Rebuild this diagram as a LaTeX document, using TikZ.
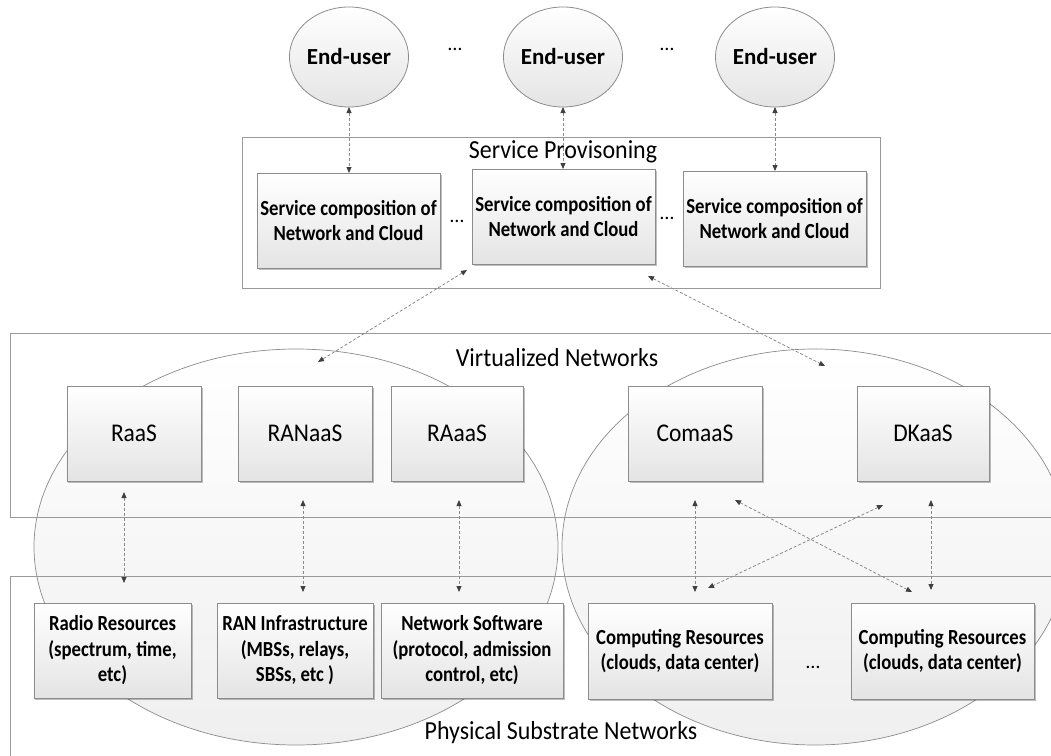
\documentclass[tikz,border=0pt]{standalone}
\usepackage{fontspec}
\setmainfont{Carlito}
\newfontfamily\nbfont{Carlito}[FakeStretch=0.87]
\newfontfamily\nrfont{Carlito}[FakeStretch=0.92]
\usetikzlibrary{arrows.meta,shadows,shapes.geometric}
\definecolor{bd}{HTML}{8C8C8C}
\definecolor{lay}{HTML}{9A9A9A}
\definecolor{dsh}{HTML}{8A8A8A}
\definecolor{tip}{HTML}{404040}
\definecolor{boxbot}{HTML}{E4E4E4}
\definecolor{ellbot}{HTML}{EFEFEF}
\begin{document}
\begin{tikzpicture}[x=1bp,y=-1bp,
  every node/.style={inner sep=0pt, outer sep=0pt},
  bx/.style={draw=bd, line width=0.8bp, top color=white, bottom color=boxbot,
    align=center, drop shadow={shadow xshift=1.5bp, shadow yshift=-1.5bp, opacity=0.25, fill=black}},
  sbox/.style={bx, font=\nbfont\fontsize{21.5bp}{25.5bp}\selectfont\bfseries},
  vbox/.style={bx, font=\nrfont\fontsize{25.5bp}{28bp}\selectfont, minimum height=95bp},
  user/.style={ellipse, draw=bd, line width=0.8bp, top color=white, bottom color=boxbot,
    minimum width=108bp, minimum height=100bp, font=\fontsize{23bp}{28bp}\selectfont\bfseries},
  layer/.style={draw=lay, line width=0.9bp},
  cloudell/.style={draw=bd, line width=0.7bp, top color=white, bottom color=ellbot},
  title/.style={font=\nrfont\fontsize{26bp}{28bp}\selectfont},
  dots/.style={font=\fontsize{20bp}{24bp}\selectfont},
  link/.style={draw=dsh, line width=0.8bp, dash pattern=on 3bp off 2bp,
    {Triangle[length=6bp,width=5bp,color=tip]}-{Triangle[length=6bp,width=5bp,color=tip]}}
]
\useasboundingbox (0,0) rectangle (1051,756);
\fill[white] (0,0) rectangle (1051,756);

% ellipses (network domains)
\path[cloudell] (296,547) ellipse [x radius=262, y radius=198];
\path[cloudell] (815,547) ellipse [x radius=253, y radius=198];

% layer frames
\draw[layer] (1060,333) -- (10,333) -- (10,517) -- (1060,517);
\draw[layer] (1060,576) -- (10,576) -- (10,770);
\draw[layer] (242,137) rectangle (880,288);

\node[title] (tsp) at (563,152) {Service Provisoning};
\node[title] (tvn) at (557,358) {Virtualized Networks};
\node[title] (tps) at (561,733) {Physical Substrate Networks};

% end users
\node[user] (eu1) at (349,57) {End-user};
\node[user] (eu2) at (563,57) {End-user};
\node[user] (eu3) at (775,57) {End-user};
\node[dots] (d1) at (455,49) {\ldots};
\node[dots] (d2) at (667,49) {\ldots};

% service composition
\node[sbox, minimum width=183bp, minimum height=95bp] (sc1) at (348.5,220.5) {Service composition of\\Network and Cloud};
\node[sbox, minimum width=183bp, minimum height=95bp] (sc2) at (563.5,216.5) {Service composition of\\Network and Cloud};
\node[sbox, minimum width=183bp, minimum height=95bp] (sc3) at (774.5,218.5) {Service composition of\\Network and Cloud};
\node[dots] (d3) at (457,221) {\ldots};
\node[dots] (d4) at (667,218) {\ldots};

% virtualized networks
\node[vbox, minimum width=134bp] (raas) at (134,433.5) {RaaS};
\node[vbox, minimum width=134bp] (ranaas) at (305,433.5) {RANaaS};
\node[vbox, minimum width=132bp] (raaas) at (457,433.5) {RAaaS};
\node[vbox, minimum width=134bp] (comaas) at (695,433.5) {ComaaS};
\node[vbox, minimum width=132bp] (dkaas) at (923,433.5) {DKaaS};

% physical resources
\node[sbox, minimum width=157bp, minimum height=95bp] (radio) at (112.5,650.5) {Radio Resources\\(spectrum, time,\\etc)};
\node[sbox, minimum width=156bp, minimum height=95bp] (raninf) at (295,650.5) {RAN Infrastructure\\(MBSs, relays,\\SBSs, etc )};
\node[sbox, minimum width=182bp, minimum height=95bp] (netsw) at (472,650.5) {Network Software\\(protocol, admission\\control, etc)};
\node[sbox, minimum width=184bp, minimum height=96bp] (cr1) at (680,651) {Computing Resources\\(clouds, data center)};
\node[sbox, minimum width=183bp, minimum height=96bp] (cr2) at (942.5,651) {Computing Resources\\(clouds, data center)};
\node[dots] (d5) at (813,667) {\ldots};

% link end points
\coordinate (scl) at (467,270);
\coordinate (scr) at (648,276);
\coordinate (ell1) at (318,362);
\coordinate (ell2) at (825,366);
\coordinate (a1t) at (124,492); \coordinate (a1b) at (124,583);
\coordinate (a2t) at (303,500); \coordinate (a2b) at (303,592);
\coordinate (a3t) at (459,500); \coordinate (a3b) at (459,592);
\coordinate (a4t) at (695,500); \coordinate (a4b) at (695,592);
\coordinate (a5t) at (931,500); \coordinate (a5b) at (931,590);
\coordinate (x1t) at (735,500); \coordinate (x1b) at (912,592);
\coordinate (x2t) at (883,505); \coordinate (x2b) at (708,588);

% links
\draw[link] (eu1.south) -- (eu1.south |- sc1.north);
\draw[link] (eu2.south) -- (eu2.south |- sc2.north);
\draw[link] (eu3.south) -- (eu3.south |- sc3.north);
\draw[link] (scl) -- (ell1);
\draw[link] (scr) -- (ell2);
\draw[link] (a1t) -- (a1b);
\draw[link] (a2t) -- (a2b);
\draw[link] (a3t) -- (a3b);
\draw[link] (a4t) -- (a4b);
\draw[link] (a5t) -- (a5b);
\draw[link] (x1t) -- (x1b);
\draw[link] (x2t) -- (x2b);
\end{tikzpicture}
\end{document}
